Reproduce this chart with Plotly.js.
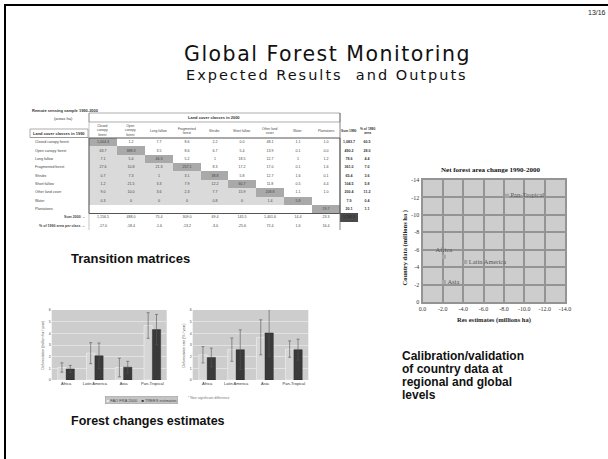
<!DOCTYPE html>
<html><head><meta charset="utf-8">
<script src="https://cdn.plot.ly/plotly-3.0.1.min.js"></script>
<style>
html,body{margin:0;padding:0;background:#fff}#chart{width:608px;height:459px}
g.annotation[data-index="1"] text{letter-spacing:1.5px}
g.annotation[data-index="2"] text{letter-spacing:2px}
</style>
</head><body><div id="chart"></div>
<script>
// ---------- data ----------
const barRegions = ['Africa', 'Latin America', 'Asia', 'Pan-Tropical'];
const leftLight = [1.07, 2.3, 1.07, 4.67];
const leftLightErr = [0.4, 0.9, 0.8, 1.1];
const leftDark = [0.95, 2.07, 1.1, 4.32];
const leftDarkErr = [0.3, 1.1, 0.5, 1.3];
const rightLight = [2.16, 2.6, 3.66, 2.65];
const rightLightErr = [0.7, 1.0, 1.5, 0.7];
const rightDark = [1.93, 2.6, 4.03, 2.6];
const rightDarkErr = [0.8, 1.7, 2.0, 0.9];
const barTickVals = [0, 1, 2, 3, 4, 5, 6];
const barTickText = ['0', '1', '2', '3', '4', '5', '6'];
const seriesNames = ['FAO FRA 2000', 'TREES estimates'];

const scRegions = ['Africa', 'Latin America', 'Asia', 'Pan-Tropical'];
const resEstimates = [-2.1, -4.2, -2.1, -8.3];
const countryData = [-5.2, -4.6, -2.3, -12.2];
const scXTickVals = [0, -2, -4, -6, -8, -10, -12, -14];
const scXTickText = ['0.0', '-2.0', '-4.0', '-6.0', '-8.0', '-10.0', '-12.0', '-14.0'];
const scYTickVals = [0, -2, -4, -6, -8, -10, -12, -14];
const scYTickText = ['0', '-2', '-4', '-6', '-8', '-10', '-12', '-14'];

const classes = ['Closed canopy forest', 'Open canopy forest', 'Long fallow', 'Fragmented forest',
  'Shrubs', 'Short fallow', 'Other land cover', 'Water', 'Plantations'];
const matrixRowLabels = classes.concat(['Sum 2000 \u2192', '% of 1990 area per class \u2192']);
const matrixColLabels = ['Closed<br>canopy<br>forest', 'Open<br>canopy<br>forest', 'Long fallow', 'Fragmented<br>forest',
  'Shrubs', 'Short fallow', 'Other land<br>cover', 'Water', 'Plantations'];
const sumColLabels = ['Sum 1990', '% of 1990<br>area'];
// shading: 0 none, 1 light (change), 2 diagonal (stable), 3 total
const matrixShade = [
  [2,0,0,0,0,0,0,0,0, 0,0],
  [1,2,0,0,0,0,0,0,0, 0,0],
  [1,1,2,0,0,0,0,0,0, 0,0],
  [1,1,1,2,0,0,0,0,0, 0,0],
  [1,1,1,1,2,0,0,0,0, 0,0],
  [1,1,1,1,1,2,0,0,0, 0,0],
  [1,1,1,1,1,1,2,0,0, 0,0],
  [1,1,1,1,1,1,1,2,0, 0,0],
  [0,0,0,0,0,0,0,0,2, 0,0],
  [0,0,0,0,0,0,0,0,0, 3,0],
  [0,0,0,0,0,0,0,0,0, 0,0]
];
const matrixText = [
  ['1,004.3','1.2','7.7','8.6','2.2','0.0','48.1','1.1','1.0','1,083.7','60.5'],
  ['63.7','388.3','3.5','8.6','6.7','5.4','13.9','0.1','0.0','490.2','28.0'],
  ['7.1','5.4','46.3','5.2','1','18.5','12.7','1','1.2','78.6','4.4'],
  ['27.6','10.8','21.3','257.1','8.3','17.2','17.0','0.1','1.6','361.0','7.0'],
  ['0.7','7.3','1','3.1','38.8','5.8','12.7','1.6','0.1','65.4','3.6'],
  ['1.2','21.5','3.3','7.9','12.2','60.7','11.8','0.5','4.4','104.5','5.8'],
  ['9.0','10.0','3.6','2.3','7.7','15.9','208.8','1.1','1.0','200.4','11.2'],
  ['0.3','0','0','0','0.8','0','1.4','5.8','','7.9','0.4'],
  ['','','','','','','','','19.7','20.1','1.1'],
  ['1,156.5','488.0','75.4','309.0','69.4','145.5','1,401.6','14.4','23.3','1,782.3',''],
  ['-17.0','-18.4','-1.6','-13.2','-3.0','-25.6','72.4','1.6','16.4','','']
];
const calibLines = ['Calibration/validation', 'of country data at', 'regional and global', 'levels'];

// ---------- helpers ----------
const W = 608, H = 459;
const px = x => x / W;
const py = y => 1 - y / H;
const SANS = 'Liberation Sans, Arial, sans-serif';
const WIDE = 'DejaVu Sans, Verdana, sans-serif';
const SERIF = 'Liberation Serif, Times New Roman, serif';

const classZ = matrixShade.map(r => r.slice(0, 9));
const sumZ = matrixShade.map(r => r.slice(9));
const classT = matrixText.map(r => r.slice(0, 9));
const sumT = matrixText.map(r => r.slice(9));
const rowIdx = matrixRowLabels.map((_, i) => i);
const shadeScale = [[0,'#ffffff'],[0.166,'#ffffff'],[0.167,'#dadada'],[0.5,'#dadada'],[0.5,'#a9a9a9'],[0.833,'#a9a9a9'],[0.834,'#4a4a4a'],[1,'#4a4a4a']];

const errStyle = arr => ({type:'data', array: arr, color:'#555', thickness:0.6, width:1.5});
const lightBar = {color:'#d6d6d6', line:{color:'#f2f2f2', width:0.6}};
const darkBar = {color:'#3a3a3a', line:{color:'#222', width:0.4}};

const traces = [
  {type:'bar', x: barRegions, y: leftLight, name: seriesNames[0], xaxis:'x', yaxis:'y', marker: lightBar, error_y: errStyle(leftLightErr), showlegend:false},
  {type:'bar', x: barRegions, y: leftDark, name: seriesNames[1], xaxis:'x', yaxis:'y', marker: darkBar, error_y: errStyle(leftDarkErr), showlegend:false},
  {type:'bar', x: barRegions, y: rightLight, name: seriesNames[0], xaxis:'x2', yaxis:'y2', marker: lightBar, error_y: errStyle(rightLightErr), showlegend:false},
  {type:'bar', x: barRegions, y: rightDark, name: seriesNames[1], xaxis:'x2', yaxis:'y2', marker: darkBar, error_y: errStyle(rightDarkErr), showlegend:false},
  {type:'scatter', mode:'markers+text', x: resEstimates, y: countryData, text: scRegions,
   xaxis:'x3', yaxis:'y3', showlegend:false,
   textposition:['top center','middle right','middle right','middle right'],
   textfont:{family:SERIF, size:6.5, color:'#555'},
   marker:{symbol:'square', size:4, color:'#a8a8a8', line:{width:0}}},
  {type:'heatmap', z: classZ, text: classT, texttemplate:'%{text}', textfont:{family:SANS, size:3.6, color:'#444'},
   x: classes.map((_, i) => i), y: rowIdx, xaxis:'x4', yaxis:'y4', zmin:0, zmax:3, colorscale: shadeScale, showscale:false, hoverinfo:'skip'},
  {type:'heatmap', z: sumZ, text: sumT, texttemplate:'<b>%{text}</b>', textfont:{family:SANS, size:3.6, color:'#333'},
   x: [0, 1], y: rowIdx, xaxis:'x5', yaxis:'y4', zmin:0, zmax:3, colorscale: shadeScale, showscale:false, hoverinfo:'skip'}
];

const barX = (d, a) => ({domain:d, anchor:a, showgrid:false, zeroline:false, ticks:'', tickfont:{family:SANS, size:4, color:'#333'}, showline:false});
const barY = (d, a) => ({domain:d, anchor:a, range:[0, 6], tickvals: barTickVals, ticktext: barTickText,
  gridcolor:'#e2e2e2', gridwidth:1, zeroline:false, ticks:'', tickfont:{family:SANS, size:3.5, color:'#444'}, showline:false});

const P = (text, x, y, font, extra) => Object.assign({text:text, x:px(x), y:py(y), xref:'paper', yref:'paper', showarrow:false,
  xanchor:'center', yanchor:'middle', font:font}, extra || {});

const annotations = [
  P('13/16', 597, 12, {family:SANS, size:7, color:'#222'}),
  P('Global Forest Monitoring', 327, 54.5, {family:WIDE, size:20.5, color:'#111'}),
  P('Expected Results\u00a0\u00a0and Outputs', 327, 74.5, {family:WIDE, size:14.5, color:'#111'}),
  P('<b>Transition matrices</b>', 69, 258, {family:SANS, size:13, color:'#111'}, {xanchor:'left'}),
  P('<b>Forest changes estimates</b>', 69, 421, {family:SANS, size:12.5, color:'#111'}, {xanchor:'left'}),
  // scatter texts
  P('<b>Net forest area change 1990-2000</b>', 490, 170, {family:SERIF, size:7, color:'#111'}),
  P('<b>Res estimates (millions ha)</b>', 494, 320, {family:SERIF, size:6.5, color:'#222'}),
  P('<b>Country data (millions ha )</b>', 404.5, 248, {family:SERIF, size:6.5, color:'#222'}, {textangle:-90}),
  // bar chart titles / legend
  P('Deforestation (million ha / year)', 42.5, 345, {family:SANS, size:3.5, color:'#555'}, {textangle:-90}),
  P('Deforestation rate (% / year)', 183.5, 345, {family:SANS, size:3.5, color:'#555'}, {textangle:-90}),
  P('<span style="color:#eeeeee">\u25A0</span> ' + seriesNames[0] + '\u00a0\u00a0\u00a0\u00a0<span style="color:#333333">\u25A0</span> ' + seriesNames[1],
    141, 400, {family:SANS, size:4, color:'#444'}, {bgcolor:'#c4c4c4', bordercolor:'#9a9a9a', borderwidth:0.5, borderpad:1.2}),
  P('* Non significant difference', 186, 397.5, {family:SANS, size:3.5, color:'#777'}, {xanchor:'left'}),
  // matrix headers
  P('<b>Remote sensing sample 1990-2000</b>', 30, 110, {family:SANS, size:4, color:'#333'}, {xanchor:'left'}),
  P('(areas ha)', 63, 118, {family:SANS, size:4, color:'#333'}),
  P('<b>Land cover classes in 2000</b>', 214, 117.5, {family:SANS, size:4, color:'#333'}),
  P('<b>Land cover classes in 1990</b>', 59, 133.5, {family:SANS, size:4, color:'#333'})
];
calibLines.forEach((t, i) => annotations.push(P('<b>' + t + '</b>', 400, 355.5 + i * 13.1, {family:SANS, size:12, color:'#111'}, {xanchor:'left'})));
matrixRowLabels.forEach((t, i) => {
  const isSum = i >= 9;
  annotations.push({text: isSum ? '<b>' + t + '</b>' : t, x: isSum ? px(87) : px(33), y: i, xref:'paper', yref:'y4',
    xanchor: isSum ? 'right' : 'left', yanchor:'middle', showarrow:false, font:{family:SANS, size:3.6, color:'#444'}});
});
matrixColLabels.forEach((t, i) => annotations.push({text:t, x:i, y:py(130.5), xref:'x4', yref:'paper', xanchor:'center', yanchor:'middle', showarrow:false, font:{family:SANS, size:3.3, color:'#444'}}));
sumColLabels.forEach((t, i) => annotations.push({text:'<b>' + t + '</b>', x:i, y:py(130.5), xref:'x5', yref:'paper', xanchor:'center', yanchor:'middle', showarrow:false, font:{family:SANS, size:3.3, color:'#333'}}));

const shapes = [
  {type:'line', xref:'paper', yref:'paper', x0:px(4), y0:py(5), x1:px(608), y1:py(5), line:{color:'#000', width:2}},
  {type:'line', xref:'paper', yref:'paper', x0:px(5), y0:py(4), x1:px(5), y1:py(459), line:{color:'#000', width:2}},
  // matrix boxes
  {type:'rect', xref:'paper', yref:'paper', x0:px(89), y0:py(113), x1:px(340), y1:py(122), line:{color:'#777', width:0.6}},
  {type:'rect', xref:'paper', yref:'paper', x0:px(30), y0:py(129), x1:px(88), y1:py(137.5), line:{color:'#777', width:0.6}},
  {type:'rect', xref:'paper', yref:'paper', x0:px(89), y0:py(138), x1:px(340), y1:py(213.5), line:{color:'#555', width:1}},
  {type:'line', xref:'paper', yref:'paper', x0:px(340), y0:py(113), x1:px(340), y1:py(230), line:{color:'#666', width:0.8}},
  {type:'line', xref:'paper', yref:'paper', x0:px(89), y0:py(113), x1:px(89), y1:py(230), line:{color:'#888', width:0.5}},
  {type:'line', xref:'paper', yref:'paper', x0:px(30), y0:py(137.5), x1:px(89), y1:py(137.5), line:{color:'#888', width:0.5}}
];

const layout = {
  width: W, height: H,
  margin:{l:0, r:0, t:0, b:0},
  paper_bgcolor:'#ffffff', plot_bgcolor:'#cdcdcd',
  barmode:'group', bargap:0.42, bargroupgap:0,
  font:{family:SANS},
  xaxis: barX([px(51.7), px(166.7)], 'y'),
  yaxis: barY([py(380), py(310)], 'x'),
  xaxis2: barX([px(192.7), px(308.3)], 'y2'),
  yaxis2: barY([py(380), py(310)], 'x2'),
  xaxis3: {domain:[px(422.5), px(565)], anchor:'y3', range:[0, -14], tickvals: scXTickVals, ticktext: scXTickText,
    gridcolor:'#949494', gridwidth:2, zeroline:false, ticks:'', showline:true, linecolor:'#949494', linewidth:2, mirror:true,
    tickfont:{family:SERIF, size:6, color:'#333'}},
  yaxis3: {domain:[py(302), py(180)], anchor:'x3', range:[0, -14], tickvals: scYTickVals, ticktext: scYTickText,
    gridcolor:'#949494', gridwidth:2, zeroline:false, ticks:'', showline:true, linecolor:'#949494', linewidth:2, mirror:true,
    tickfont:{family:SERIF, size:6, color:'#333'}},
  xaxis4: {domain:[px(89), px(340)], anchor:'y4', visible:false, range:[-0.5, 8.5]},
  xaxis5: {domain:[px(340), px(376)], anchor:'y4', visible:false, range:[-0.5, 1.5]},
  yaxis4: {domain:[py(230), py(138)], anchor:'x4', visible:false, range:[10.5, -0.5]},
  annotations: annotations,
  shapes: shapes
};

Plotly.newPlot('chart', traces, layout, {staticPlot:true, displayModeBar:false});
</script></body></html>
